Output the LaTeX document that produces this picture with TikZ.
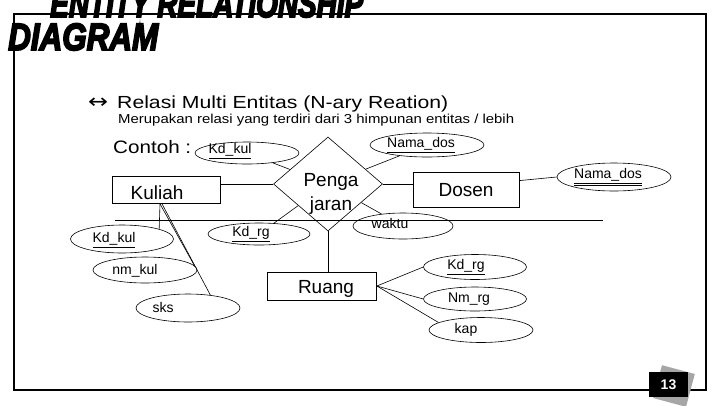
\documentclass[tikz,border=0pt]{standalone}
\usepackage{fontspec}
\usepackage{graphicx}
\setmainfont{Liberation Sans}
\newfontfamily\titlefont{Liberation Sans}[BoldItalicFeatures={FakeBold=5}]
\newfontfamily\symfont{DejaVu Sans}
\usetikzlibrary{shapes.geometric}
\begin{document}
\begin{tikzpicture}[x=1pt,y=-1pt,
  attr/.style={draw, ellipse, inner sep=0pt, line width=0.6pt},
  ent/.style={draw, rectangle, inner sep=0pt, line width=0.7pt},
  lbl/.style={inner sep=0pt, font=\fontsize{14}{16}\selectfont},
  big/.style={inner sep=0pt, font=\fontsize{19}{24}\selectfont},
  conn/.style={line width=0.6pt}]
\useasboundingbox (0,0) rectangle (720,405);
% frame
\draw[line width=2.5pt] (14,14) rectangle (706,390);
% title
\node[anchor=base west, inner sep=0pt] (title1) at (50,17)
  {\resizebox{313pt}{\height}{\titlefont\fontsize{38}{40}\selectfont\bfseries\itshape ENTITY RELATIONSHIP}};
\node[anchor=base west, inner sep=0pt] (title2) at (8,50)
  {\resizebox{150pt}{\height}{\titlefont\fontsize{38}{40}\selectfont\bfseries\itshape DIAGRAM}};
% header text
\node[anchor=center, inner sep=0pt] (arrow) at (98,103)
  {\resizebox{20pt}{\height}{\symfont\fontsize{20}{22}\selectfont ↔}};
\node[anchor=base west, inner sep=0pt] (head) at (117,108)
  {\resizebox{331pt}{\height}{\fontsize{17.5}{20}\selectfont Relasi Multi Entitas (N-ary Reation)}};
\node[anchor=base west, inner sep=0pt] (sub) at (118,123)
  {\resizebox{396pt}{\height}{\fontsize{13}{15}\selectfont Merupakan relasi yang terdiri dari 3 himpunan entitas / lebih}};
\node[anchor=base west, inner sep=0pt] (contoh) at (113,153)
  {\resizebox{78pt}{\height}{\fontsize{18}{20}\selectfont Contoh :}};
% relationship
\node[draw, diamond, inner sep=0pt, minimum width=109pt, minimum height=94pt, line width=0.6pt] (peng) at (328,184) {};
\node[big, align=center] (pengt) at (331,194) {Penga\\jaran};
% entities
\node[ent, minimum width=108pt, minimum height=27pt] (kuliah) at (166,190) {};
\node[big] (kuliaht) at (157,193) {Kuliah};
\node[ent, minimum width=106pt, minimum height=35pt, big] (dosen) at (466,190) {Dosen};
\node[ent, minimum width=109pt, minimum height=28pt] (ruang) at (322,286) {};
\node[big] (ruangt) at (326,289) {Ruang};
% attributes
\node[attr, minimum width=104pt, minimum height=22pt] (kdkulA) at (247,153) {};
\node[lbl] (kdkulAt) at (230,151) {\underline{Kd\_kul}};
\node[attr, minimum width=114pt, minimum height=24pt] (nmdosA) at (427,145) {};
\node[lbl] (nmdosAt) at (421,145) {\underline{Nama\_dos}};
\node[attr, minimum width=114pt, minimum height=28pt] (nmdosB) at (614,177) {};
\node[lbl] (nmdosBt) at (608,177) {\underline{\underline{Nama\_dos}}};
\node[attr, minimum width=100pt, minimum height=26pt] (waktu) at (403,226) {};
\node[lbl] (waktut) at (390,223) {waktu};
\node[attr, minimum width=102pt, minimum height=22pt] (kdrgA) at (259,234) {};
\node[lbl] (kdrgAt) at (251,234) {\underline{Kd\_rg}};
\node[attr, minimum width=103pt, minimum height=28pt] (kdkulB) at (122,239) {};
\node[lbl] (kdkulBt) at (114,240) {\underline{Kd\_kul}};
\node[attr, minimum width=104pt, minimum height=26pt] (nmkul) at (145,270) {};
\node[lbl] (nmkult) at (135,271) {nm\_kul};
\node[attr, minimum width=104pt, minimum height=28pt] (sks) at (188,308) {};
\node[lbl] (skst) at (163,307) {sks};
\node[attr, minimum width=103pt, minimum height=25pt] (kdrgB) at (475,267) {};
\node[lbl] (kdrgBt) at (466,267) {\underline{Kd\_rg}};
\node[attr, minimum width=103pt, minimum height=24pt] (nmrg) at (475,299) {};
\node[lbl] (nmrgt) at (469,299) {Nm\_rg};
\node[attr, minimum width=104pt, minimum height=25pt] (kap) at (481,330) {};
\node[lbl] (kapt) at (466,330) {kap};
% connectors
\draw[conn] (kuliah.east |- peng.west) -- (peng.west);
\draw[conn] (peng.east) -- (peng.east -| dosen.west);
\draw[conn] (dosen.10) -- (nmdosB.west);
\draw[conn] (peng.south) -- (peng.south |- ruang.north);
\draw[conn] (kdkulA) -- (peng);
\draw[conn] (nmdosA) -- (peng);
\draw[conn] (waktu) -- (peng);
\draw[conn] (kdrgA) -- (peng);
\draw[conn] ([xshift=-6pt]kuliah.south) -- (kdkulB.15);
\draw[conn] ([xshift=-6pt]kuliah.south) -- (nmkul.5);
\draw[conn] ([xshift=-4pt]kuliah.south) -- (sks.30);
\draw[conn] (ruang.east) -- (kdrgB.west);
\draw[conn] (ruang.east) -- (nmrg.west);
\draw[conn] (ruang.east) -- (kap.170);
% separator line
\coordinate (sepL) at (115,220);
\coordinate (sepR) at (603,220);
\draw[line width=0.8pt] (sepL) -- (sepR);
% page badge
\node[fill=gray!70, minimum size=34pt, inner sep=0pt, rotate=-15] (badgebg) at (674,386) {};
\node[fill=black, minimum width=39pt, minimum height=25pt, inner sep=0pt, text=white,
  font=\bfseries\fontsize{14}{14}\selectfont] (badge) at (668.5,384.5) {13};
\end{tikzpicture}
\end{document}
